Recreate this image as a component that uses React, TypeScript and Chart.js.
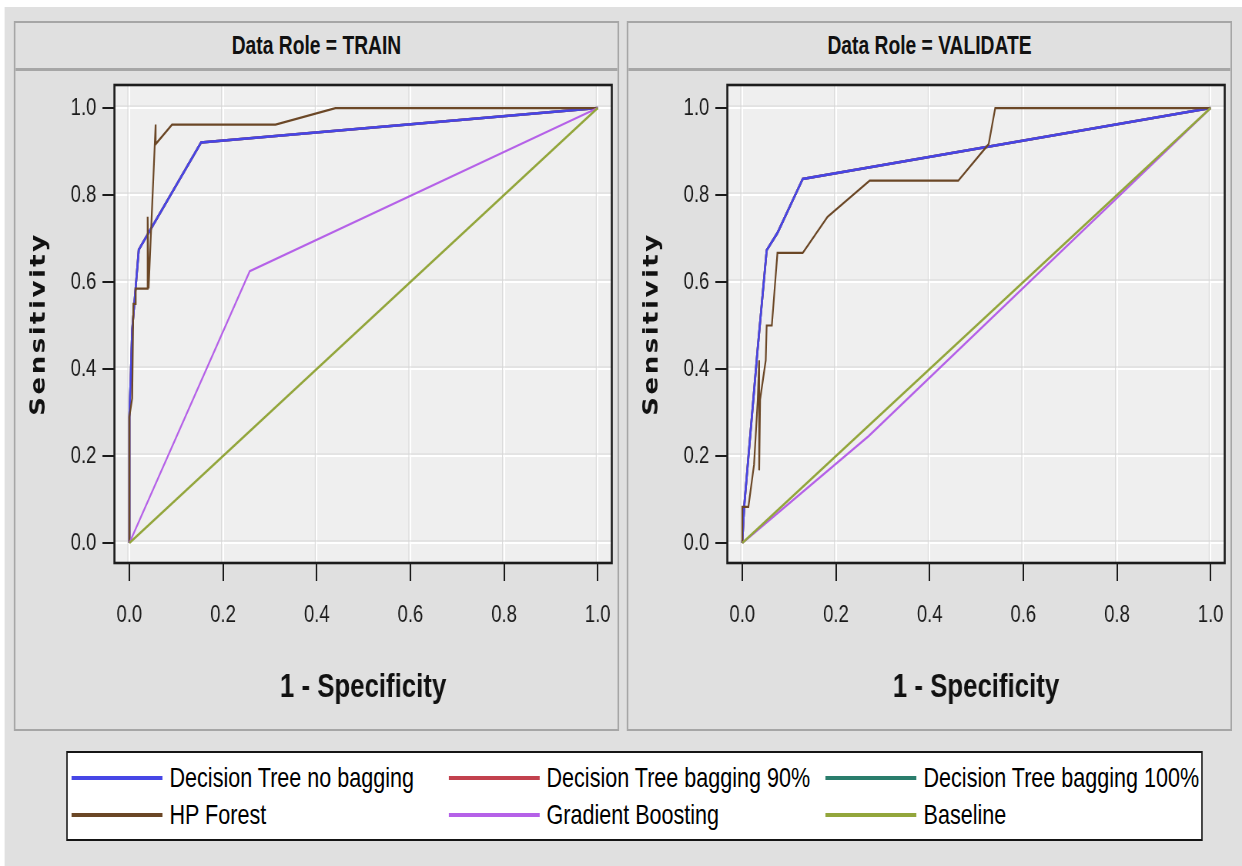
import React, { useEffect, useRef } from 'react';
import { Chart, registerables } from 'chart.js';

Chart.register(...registerables);

// ---------------- data ----------------
const tickValues = [0, 0.2, 0.4, 0.6, 0.8, 1.0];
const tickLabels = ['0.0', '0.2', '0.4', '0.6', '0.8', '1.0'];
const panelTitles = ['Data Role = TRAIN', 'Data Role = VALIDATE'];
const xAxisTitle = '1 - Specificity';
const yAxisTitle = 'Sensitivity';

const seriesNames = [
  'Decision Tree no bagging',
  'Decision Tree bagging 90%',
  'Decision Tree bagging 100%',
  'HP Forest',
  'Gradient Boosting',
  'Baseline',
];
const seriesColors = ['#4646e6', '#c2414d', '#2a7d6c', '#6b4726', '#b561e8', '#93a63c'];
const seriesWidths = [2.6, 2.6, 2.6, 2.2, 2.2, 2.6];
const seriesOrder = [3, 4, 5, 2, 1, 0];

// TRAIN
const trainTreeX = [0, 0, 0.006, 0.010, 0.020, 0.153, 1];
const trainTreeY = [0, 0.29, 0.49, 0.543, 0.674, 0.921, 1];
const trainBag90X = [0, 0, 0.006, 0.010, 0.020, 0.153, 1];
const trainBag90Y = [0, 0.29, 0.49, 0.543, 0.674, 0.921, 1];
const trainBag100X = [0, 0, 0.006, 0.010, 0.020, 0.153, 1];
const trainBag100Y = [0, 0.29, 0.49, 0.543, 0.674, 0.921, 1];
const trainForestX = [0, 0, 0.006, 0.0085, 0.0135, 0.0135, 0.038, 0.039, 0.041, 0.056, 0.056, 0.091, 0.312, 0.44, 1];
const trainForestY = [0, 0.29, 0.333, 0.55, 0.55, 0.585, 0.585, 0.75, 0.585, 0.962, 0.917, 0.962, 0.962, 1, 1];
const trainBoostX = [0, 0.257, 1];
const trainBoostY = [0, 0.625, 1];
const trainBaseX = [0, 1];
const trainBaseY = [0, 1];

// VALIDATE
const validTreeX = [0, 0.004, 0.032, 0.052, 0.075, 0.129, 1];
const validTreeY = [0, 0.084, 0.437, 0.673, 0.713, 0.837, 1];
const validBag90X = [0, 0.004, 0.032, 0.052, 0.075, 0.129, 1];
const validBag90Y = [0, 0.084, 0.437, 0.673, 0.713, 0.837, 1];
const validBag100X = [0, 0.004, 0.032, 0.052, 0.075, 0.129, 1];
const validBag100Y = [0, 0.084, 0.437, 0.673, 0.713, 0.837, 1];
const validForestX = [0, 0, 0.013, 0.025, 0.033, 0.036, 0.036, 0.038, 0.050, 0.052, 0.063, 0.075, 0.129, 0.182, 0.272, 0.461, 0.526, 0.540, 1];
const validForestY = [0, 0.083, 0.083, 0.18, 0.33, 0.42, 0.167, 0.33, 0.42, 0.50, 0.50, 0.667, 0.667, 0.75, 0.833, 0.833, 0.917, 1, 1];
const validBoostX = [0, 0.27, 1];
const validBoostY = [0, 0.246, 1];
const validBaseX = [0, 1];
const validBaseY = [0, 1];

const trainSeries = [
  [trainTreeX, trainTreeY],
  [trainBag90X, trainBag90Y],
  [trainBag100X, trainBag100Y],
  [trainForestX, trainForestY],
  [trainBoostX, trainBoostY],
  [trainBaseX, trainBaseY],
];
const validSeries = [
  [validTreeX, validTreeY],
  [validBag90X, validBag90Y],
  [validBag100X, validBag100Y],
  [validForestX, validForestY],
  [validBoostX, validBoostY],
  [validBaseX, validBaseY],
];

// ---------------- layout ----------------
const S = 0.77; // horizontal compression of the whole figure
const X = (v: number) => v / S;
const FONT = "'Liberation Sans', Arial, sans-serif";

const CANVAS_W = Math.round(X(601));
const CANVAS_H = 658;
const PLOT_LEFT = X(99);
const PLOT_TOP = 14;
const PLOT_RIGHT_PAD = X(5);
const XAXIS_H = 166;

const labelFor = (v: number) => {
  const i = tickValues.findIndex((t) => Math.abs(t - v) < 1e-9);
  return i >= 0 ? tickLabels[i] : '';
};

const framePlugin = {
  id: 'sasFrame',
  beforeDraw(chart: any) {
    const { ctx, chartArea: a } = chart;
    ctx.save();
    ctx.fillStyle = '#efefef';
    ctx.fillRect(a.left, a.top, a.right - a.left, a.bottom - a.top);
    ctx.restore();
  },
  beforeDatasetsDraw(chart: any) {
    const { ctx, chartArea: a, scales } = chart;
    ctx.save();
    ctx.strokeStyle = '#d8d8d8';
    ctx.lineWidth = 1;
    ctx.beginPath();
    scales.x.ticks.forEach((t: any) => {
      const p = scales.x.getPixelForValue(t.value) - 2;
      ctx.moveTo(p, a.top);
      ctx.lineTo(p, a.bottom);
    });
    scales.y.ticks.forEach((t: any) => {
      const p = scales.y.getPixelForValue(t.value) - 2;
      ctx.moveTo(a.left, p);
      ctx.lineTo(a.right, p);
    });
    ctx.stroke();
    ctx.restore();
  },
  afterLayout(chart: any) {
    const y: any = chart.scales.y;
    if (y && !y.__spaced) {
      const orig = y.drawTitle.bind(y);
      y.drawTitle = () => {
        const c: any = chart.ctx;
        c.save();
        c.letterSpacing = '2.5px';
        orig();
        c.restore();
      };
      y.__spaced = true;
    }
  },
  afterDraw(chart: any) {
    const { ctx, chartArea: a } = chart;
    ctx.save();
    ctx.strokeStyle = '#1c1c1c';
    ctx.lineWidth = 2.6;
    ctx.strokeRect(a.left, a.top, a.right - a.left, a.bottom - a.top);
    ctx.restore();
  },
};

function RocChart({ series }: { series: number[][][] }) {
  const ref = useRef<HTMLCanvasElement>(null);
  useEffect(() => {
    const datasets = series.map(([xs, ys], k) => ({
      label: seriesNames[k],
      data: xs.map((x, j) => ({ x, y: ys[j] })),
      borderColor: seriesColors[k],
      backgroundColor: seriesColors[k],
      borderWidth: seriesWidths[k],
      pointRadius: 0,
      showLine: true,
      fill: false,
      tension: 0,
      order: seriesOrder[k],
    }));
    const chart = new Chart(ref.current as HTMLCanvasElement, {
      type: 'scatter',
      data: { datasets },
      options: {
        responsive: false,
        animation: false,
        devicePixelRatio: 1,
        layout: { padding: { left: 0, top: PLOT_TOP, right: PLOT_RIGHT_PAD, bottom: 0 } },
        plugins: { legend: { display: false }, tooltip: { enabled: false }, title: { display: false } },
        scales: {
          x: {
            type: 'linear',
            position: 'bottom',
            min: -0.032,
            max: 1.03,
            afterBuildTicks: (s: any) => {
              s.ticks = tickValues.map((v) => ({ value: v }));
            },
            afterFit: (s: any) => {
              s.height = XAXIS_H;
              s.paddingLeft = 0;
              s.paddingRight = 0;
              s.paddingTop = 0;
              s.paddingBottom = 0;
            },
            ticks: {
              autoSkip: false,
              maxRotation: 0,
              minRotation: 0,
              padding: 20,
              color: '#1a1a1a',
              font: { family: FONT, size: 24 },
              callback: (v: any) => labelFor(Number(v)),
            },
            grid: { color: '#ffffff', lineWidth: 2, tickLength: 18, tickColor: '#1a1a1a', tickWidth: 2 },
            border: { display: false },
            title: {
              display: true,
              text: xAxisTitle,
              color: '#111111',
              font: { family: FONT, size: 33.5, weight: 'bold' },
              padding: { top: 0, bottom: 21 },
            },
          },
          y: {
            type: 'linear',
            position: 'left',
            min: -0.046,
            max: 1.053,
            afterBuildTicks: (s: any) => {
              s.ticks = tickValues.map((v) => ({ value: v }));
            },
            afterFit: (s: any) => {
              s.width = PLOT_LEFT;
              s.paddingLeft = 0;
              s.paddingRight = 0;
              s.paddingTop = 0;
              s.paddingBottom = 0;
            },
            ticks: {
              autoSkip: false,
              padding: X(6),
              color: '#1a1a1a',
              font: { family: FONT, size: 24 },
              callback: (v: any) => labelFor(Number(v)),
            },
            grid: { color: '#ffffff', lineWidth: 2, tickLength: X(12), tickColor: '#1a1a1a', tickWidth: 2 },
            border: { display: false },
            title: {
              display: true,
              text: yAxisTitle,
              color: '#111111',
              font: { family: "'DejaVu Sans', sans-serif", size: 26, weight: 'bold' },
              padding: { top: 15.6, bottom: 0 },
            },
          },
        },
      } as any,
      plugins: [framePlugin as any],
    });
    return () => chart.destroy();
  }, [series]);
  return (
    <canvas
      ref={ref}
      width={CANVAS_W}
      height={CANVAS_H}
      style={{ display: 'block', width: CANVAS_W, height: CANVAS_H }}
    />
  );
}

function Panel({ left, title, series }: { left: number; title: string; series: number[][][] }) {
  return (
    <div
      style={{
        position: 'absolute',
        left: X(left),
        top: 21,
        width: X(605),
        height: 710,
        boxSizing: 'border-box',
        borderStyle: 'solid',
        borderColor: '#a6a6a6',
        borderWidth: `2px ${X(2)}px`,
        background: '#e0e0e0',
      }}
    >
      <div
        style={{
          height: 45,
          borderBottom: '3px solid #a6a6a6',
          display: 'flex',
          alignItems: 'center',
          justifyContent: 'center',
          fontFamily: FONT,
          fontWeight: 'bold',
          fontSize: 25,
          color: '#111',
          whiteSpace: 'nowrap',
        }}
      >
        {title}
      </div>
      <RocChart series={series} />
    </div>
  );
}

function Legend() {
  return (
    <div
      style={{
        position: 'absolute',
        left: X(66),
        top: 751,
        width: X(1137),
        height: 90,
        boxSizing: 'border-box',
        borderStyle: 'solid',
        borderColor: '#151515',
        borderWidth: `2px ${X(2)}px`,
        background: '#ffffff',
      }}
    >
      {seriesNames.map((name, i) => {
        const col = i % 3;
        const row = Math.floor(i / 3);
        return (
          <div
            key={name}
            style={{
              position: 'absolute',
              left: X(4 + 377 * col),
              top: (row === 0 ? 25 : 62) - 16,
              height: 32,
              display: 'flex',
              alignItems: 'center',
              whiteSpace: 'nowrap',
            }}
          >
            <span
              style={{
                display: 'inline-block',
                width: X(91),
                height: 4,
                background: seriesColors[i],
                marginRight: X(7),
              }}
            />
            <span style={{ fontFamily: FONT, fontSize: 28, color: '#000' }}>{name}</span>
          </div>
        );
      })}
    </div>
  );
}

export default function App() {
  return (
    <div
      style={{
        position: 'absolute',
        left: 0,
        top: 0,
        width: X(1242),
        height: 866,
        transform: `scaleX(${S})`,
        transformOrigin: '0 0',
        overflow: 'hidden',
      }}
    >
      <div
        style={{
          position: 'absolute',
          left: X(5),
          top: 7,
          width: X(1237),
          height: 859,
          background: '#e0e0e0',
        }}
      />
      <Panel left={14} title={panelTitles[0]} series={trainSeries} />
      <Panel left={627} title={panelTitles[1]} series={validSeries} />
      <Legend />
    </div>
  );
}
